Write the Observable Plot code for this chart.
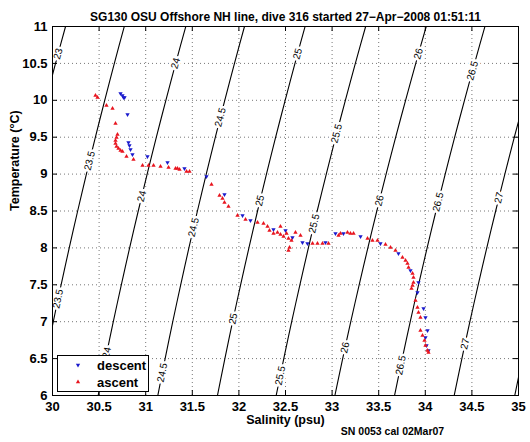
<!DOCTYPE html>
<html><head><meta charset="utf-8">
<script src="https://cdn.jsdelivr.net/npm/d3@7"></script>
<script src="https://cdn.jsdelivr.net/npm/@observablehq/plot@0.6"></script>
<style>body{margin:0;background:#fff}#chart{width:530px;height:442px}</style>
</head><body><div id="chart"></div>
<script>
const titleText = "SG130 OSU Offshore NH line, dive 316 started 27\u2212Apr\u22122008 01:51:11";
const xLabel = "Salinity (psu)";
const yLabel = "Temperature (\u00B0C)";
const caption = "SN 0053 cal 02Mar07";
const xTicks = [30, 30.5, 31, 31.5, 32, 32.5, 33, 33.5, 34, 34.5, 35];
const yTicks = [6, 6.5, 7, 7.5, 8, 8.5, 9, 9.5, 10, 10.5, 11];

// sigma-theta contour levels: salinity where each crosses T=6, T=8.5 and T=11
const levels         = [23, 23.5, 24, 24.5, 25, 25.5, 26, 26.5, 27, 27.5];
const salinityAt6C   = [29.21, 29.85, 30.49, 31.13, 31.77, 32.40, 33.03, 33.67, 34.31, 34.96];
const salinityAt8p5C = [29.635, 30.27, 30.92, 31.555, 32.20, 32.84, 33.48, 34.115, 34.755, 35.40];
const salinityAt11C  = [30.14, 30.77, 31.43, 32.06, 32.71, 33.36, 34.01, 34.64, 35.28, 35.92];

// contour labels: level and temperature where the label sits
const labelLevels = [23, 23.5, 23.5, 24, 24, 24, 24.5, 24.5, 24.5, 25, 25, 25, 25.5, 25.5, 25.5, 26, 26, 26, 26.5, 26.5, 26.5, 27, 27];
const labelTemps  = [10.63, 9.18, 7.31, 10.5, 8.7, 6.58, 9.77, 8.28, 6.31, 10.63, 8.64, 7.04, 9.55, 8.33, 6.27, 10.63, 8.64, 6.65, 10.4, 8.62, 6.41, 8.68, 6.70];

const descentS = [30.730, 30.751, 30.762, 30.773, 30.805, 30.815, 30.826, 30.837, 30.858, 31.019, 31.234, 31.416, 31.652, 31.845, 32.039, 32.124, 32.371, 32.500, 32.575, 32.682, 32.736, 32.929, 33.036, 33.122, 33.305, 33.519, 33.712, 33.841, 33.927, 33.916, 33.981, 34.002, 34.024, 34.002, 34.013, 34.034];
const descentT = [10.092, 10.065, 10.038, 10.038, 9.808, 9.428, 9.388, 9.333, 9.266, 9.238, 9.157, 9.076, 8.967, 8.724, 8.439, 8.371, 8.249, 8.236, 8.141, 8.073, 8.060, 8.073, 8.195, 8.195, 8.154, 8.060, 7.924, 7.694, 7.531, 7.396, 7.179, 7.057, 6.881, 6.786, 6.678, 6.610];

const ascentS = [30.461, 30.483, 30.579, 30.644, 30.676, 30.697, 30.687, 30.676, 30.676, 30.687, 30.708, 30.730, 30.751, 30.794, 30.869, 30.966, 31.030, 31.084, 31.159, 31.245, 31.320, 31.341, 31.363, 31.438, 31.470, 31.706, 31.792, 31.824, 31.845, 31.888, 31.985, 32.071, 32.200, 32.264, 32.307, 32.328, 32.371, 32.446, 32.414, 32.446, 32.479, 32.511, 32.532, 32.543, 32.532, 32.564, 32.607, 32.661, 32.790, 32.843, 32.897, 32.961, 33.069, 33.090, 33.165, 33.197, 33.230, 33.380, 33.433, 33.487, 33.573, 33.627, 33.680, 33.755, 33.788, 33.809, 33.820, 33.863, 33.873, 33.873, 33.863, 33.852, 33.895, 33.916, 33.927, 33.948, 33.948, 33.970, 33.991, 34.002, 34.024, 34.034];
const ascentT = [10.065, 10.038, 9.930, 9.889, 9.686, 9.537, 9.496, 9.455, 9.415, 9.374, 9.347, 9.320, 9.306, 9.238, 9.198, 9.117, 9.117, 9.117, 9.103, 9.089, 9.076, 9.076, 9.062, 9.035, 9.035, 8.859, 8.710, 8.669, 8.615, 8.561, 8.439, 8.385, 8.344, 8.331, 8.290, 8.236, 8.195, 8.290, 8.209, 8.182, 8.154, 8.195, 8.127, 8.005, 7.965, 8.100, 8.209, 8.168, 8.060, 8.060, 8.060, 8.060, 8.168, 8.195, 8.209, 8.195, 8.195, 8.127, 8.100, 8.100, 8.046, 8.005, 7.965, 7.870, 7.829, 7.789, 7.734, 7.653, 7.599, 7.531, 7.491, 7.450, 7.287, 7.192, 7.125, 7.057, 6.881, 6.813, 6.745, 6.678, 6.610, 6.583];

// quadratic through the three read crossings of contour i
function contourS(i, T) {
  const a = salinityAt6C[i], b = salinityAt8p5C[i], c = salinityAt11C[i];
  const u = (T - 6) / 2.5; // 0,1,2
  return a * (u - 1) * (u - 2) / 2 - b * u * (u - 2) + c * u * (u - 1) / 2;
}
function contourSlope(i, T) { // dS/dT
  const h = 0.01;
  return (contourS(i, T + h) - contourS(i, T - h)) / (2 * h);
}

const contourTemps = d3.range(6, 11.0001, 0.25);
const contourData = levels.flatMap((lv, i) => contourTemps.map(T => ({level: lv, T, S: contourS(i, T)})));

const W = 530, H = 442, mL = 52, mR = 12, mT = 26, mB = 47;
const pxPerS = (W - mL - mR) / 5, pxPerT = (H - mT - mB) / 5;
const labelData = labelLevels.map((lv, j) => {
  const i = levels.indexOf(lv);
  const T = labelTemps[j];
  const ang = -Math.atan2(pxPerT, contourSlope(i, T) * pxPerS) * 180 / Math.PI;
  return {level: lv, T, S: contourS(i, T), ang};
});
const descent = descentS.map((s, i) => ({S: s, T: descentT[i]}));
const ascent = ascentS.map((s, i) => ({S: s, T: ascentT[i]}));

const FONT = "'Liberation Sans', Arial, Helvetica, sans-serif";
const BLUE = "#1a1acc", RED = "#e8141e";

const chart = Plot.plot({
  width: W, height: H,
  marginLeft: mL, marginRight: mR, marginTop: mT, marginBottom: mB,
  x: {domain: [30, 35]},
  y: {domain: [6, 11]},
  style: {fontFamily: FONT, fontSize: "13px", fontWeight: "bold", background: "white", color: "black"},
  marks: [
    Plot.gridX(xTicks, {stroke: "#777", strokeOpacity: 1, strokeDasharray: "1,3"}),
    Plot.gridY(yTicks, {stroke: "#777", strokeOpacity: 1, strokeDasharray: "1,3"}),
    Plot.line(contourData, {x: "S", y: "T", z: "level", stroke: "black", strokeWidth: 1.1, curve: "natural", clip: true}),
    Plot.text(labelData, {x: "S", y: "T", text: d => String(d.level), rotate: d => d.ang, fontSize: 10, fontWeight: "normal",
      fill: "black", stroke: "white", strokeWidth: 5, clip: true}),
    Plot.dot(descent, {x: "S", y: "T", symbol: "triangle", rotate: 180, r: 1.6, fill: BLUE, stroke: null}),
    Plot.dot(ascent, {x: "S", y: "T", symbol: "triangle", r: 1.6, fill: RED, stroke: null}),
    Plot.tickX(xTicks, {x: d => d, insetTop: 364, stroke: "black"}),
    Plot.tickX(xTicks, {x: d => d, insetBottom: 364, stroke: "black"}),
    Plot.tickY(yTicks, {y: d => d, insetRight: 461, stroke: "black"}),
    Plot.tickY(yTicks, {y: d => d, insetLeft: 461, stroke: "black"}),
    Plot.frame({stroke: "black", strokeWidth: 1}),
    Plot.axisX(xTicks, {tickSize: 0, tickPadding: 6, label: null, tickFormat: d => String(d)}),
    Plot.axisY(yTicks, {tickSize: 0, tickPadding: 5, label: null, tickFormat: d => String(d)}),
    Plot.text([titleText], {text: d => d, frameAnchor: "top", dy: -14, fontSize: 12}),
    Plot.text([xLabel], {text: d => d, frameAnchor: "bottom", dy: 28, fontSize: 12.5}),
    Plot.text([yLabel], {text: d => d, frameAnchor: "left", dx: -38, rotate: -90, fontSize: 12.5}),
    Plot.text([caption], {text: d => d, frameAnchor: "bottom", dx: 107, dy: 39, fontSize: 10.5})
  ]
});

// legend box (inside axes, lower left)
const svg = d3.select(chart);
const lg = svg.append("g").attr("font-family", FONT).attr("font-weight", "bold").attr("font-size", 13)
  .attr("text-anchor", "start");
lg.append("rect").attr("x", 57.5).attr("y", 355.5).attr("width", 91).attr("height", 36)
  .attr("fill", "white").attr("stroke", "black");
const tri = d3.symbol(d3.symbolTriangle, Math.PI * 1.6 * 1.6)();
lg.append("path").attr("d", tri).attr("transform", "translate(78,365) rotate(180)").attr("fill", BLUE);
lg.append("path").attr("d", tri).attr("transform", "translate(78,382)").attr("fill", RED);
lg.append("text").attr("x", 97).attr("y", 370).attr("text-anchor", "start").text("descent");
lg.append("text").attr("x", 97).attr("y", 387).attr("text-anchor", "start").text("ascent");

document.getElementById("chart").appendChild(chart);
</script>
</body></html>
